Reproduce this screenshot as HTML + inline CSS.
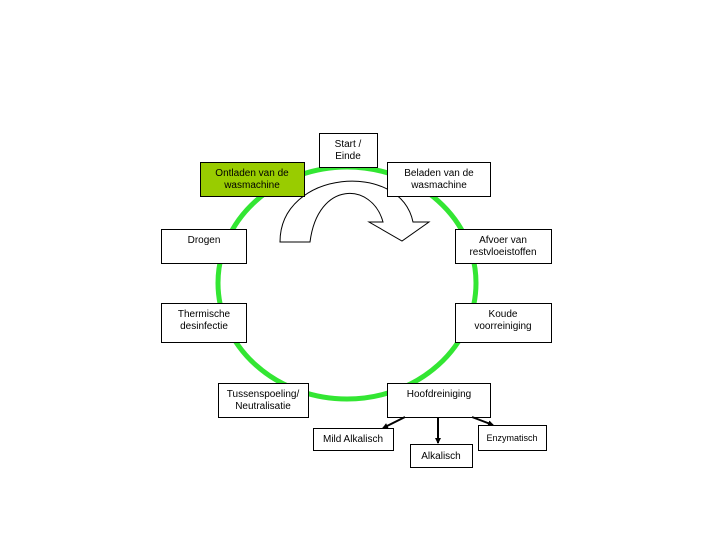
<!DOCTYPE html>
<html><head><meta charset="utf-8"><style>
body{margin:0;background:#fff}
svg text{font-family:"Liberation Sans",sans-serif;font-size:10px;fill:#000}
</style></head><body>
<svg width="720" height="540" xmlns="http://www.w3.org/2000/svg">
<defs><marker id="a" markerWidth="6" markerHeight="6" refX="5" refY="3" orient="auto" markerUnits="userSpaceOnUse"><path d="M0,0 L6,3 L0,6 Z" fill="#000"/></marker></defs>
<ellipse cx="347" cy="283" rx="129" ry="116" fill="none" stroke="#33e633" stroke-width="5"/>
<path d="M280,242 C280,170 400,160 413,222 L429,222 L402,241 L369,222 L383,222 C372,182 318,180 310,242 Z" fill="#fff" stroke="#000" stroke-width="1"/>
<g fill="#fff" stroke="#000" stroke-width="1">
<rect x="319.5" y="133.5" width="58" height="34"/>
<rect x="200.5" y="162.5" width="104" height="34" fill="#99cc00"/>
<rect x="387.5" y="162.5" width="103" height="34"/>
<rect x="161.5" y="229.5" width="85" height="34"/>
<rect x="455.5" y="229.5" width="96" height="34"/>
<rect x="161.5" y="303.5" width="85" height="39"/>
<rect x="455.5" y="303.5" width="96" height="39"/>
<rect x="218.5" y="383.5" width="90" height="34"/>
<rect x="387.5" y="383.5" width="103" height="34"/>
<rect x="313.5" y="428.5" width="80" height="22"/>
<rect x="410.5" y="444.5" width="62" height="23"/>
<rect x="478.5" y="425.5" width="68" height="25"/>
</g>
<g stroke="#000" stroke-width="2">
<line x1="405" y1="417" x2="383" y2="428" marker-end="url(#a)"/>
<line x1="438" y1="417" x2="438" y2="443" marker-end="url(#a)"/>
<line x1="472" y1="417" x2="493" y2="425" marker-end="url(#a)"/>
</g>
<g text-anchor="middle">
<text x="348" y="147">Start /</text><text x="348" y="159">Einde</text>
<text x="252" y="176">Ontladen van de</text><text x="252" y="188">wasmachine</text>
<text x="439" y="176">Beladen van de</text><text x="439" y="188">wasmachine</text>
<text x="204" y="243">Drogen</text>
<text x="503" y="243">Afvoer van</text><text x="503" y="255">restvloeistoffen</text>
<text x="204" y="317">Thermische</text><text x="204" y="329">desinfectie</text>
<text x="503" y="317">Koude</text><text x="503" y="329">voorreiniging</text>
<text x="263" y="397">Tussenspoeling/</text><text x="263" y="409">Neutralisatie</text>
<text x="439" y="397">Hoofdreiniging</text>
<text x="353" y="442">Mild Alkalisch</text>
<text x="441" y="459">Alkalisch</text>
<text x="512" y="441" style="font-size:9px">Enzymatisch</text>
</g>
</svg>
</body></html>
